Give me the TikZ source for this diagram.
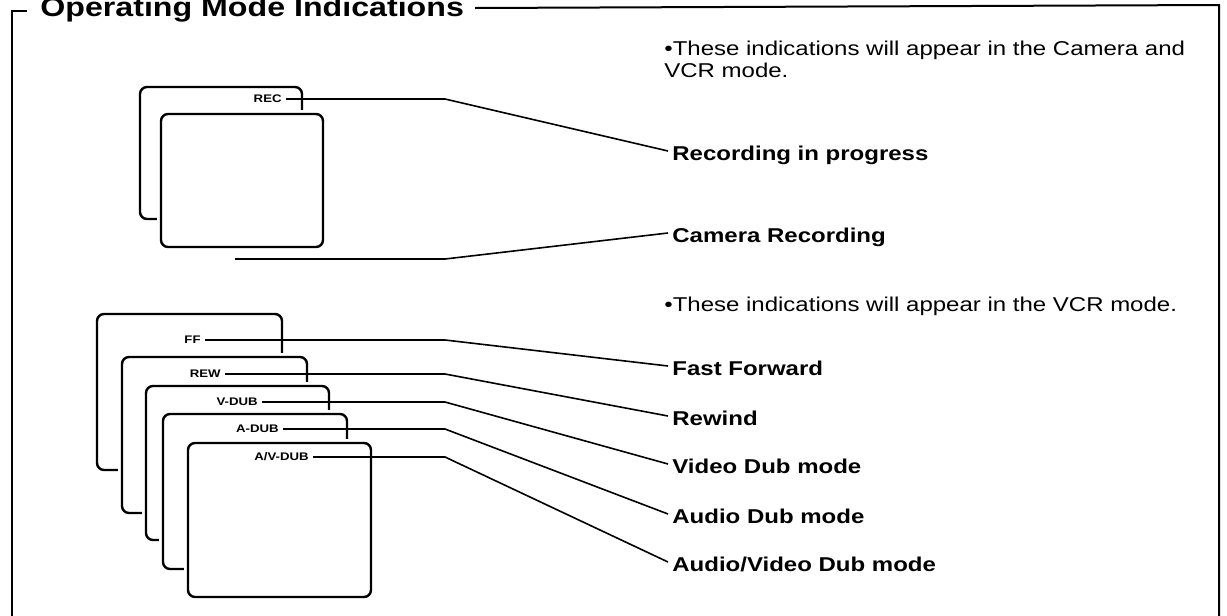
\documentclass[tikz,border=0pt]{standalone}
\usepackage{fontspec}
\setmainfont{Liberation Sans}[FakeStretch=1.2]
\usepackage{tikz}
\tikzset{
  % rutor
  scr/.style={draw=black,line width=1.2pt,fill=white,rounded corners=3.5pt,
              preaction={draw=white,line width=4pt}},
  scrtxt/.style={font=\fontsize{5.5}{6}\selectfont\bfseries,inner xsep=2pt,
                 inner ysep=0pt,anchor=east},
  % texter
  lbl/.style={font=\fontsize{10}{11}\selectfont\bfseries,anchor=west,
              inner xsep=2pt,inner ysep=0pt,text height=9pt,text depth=0pt},
  note/.style={font=\fontsize{10}{11}\selectfont,anchor=base west,inner sep=0pt},
  lead/.style={draw=black,line width=0.8pt},
  frame/.style={draw=black,line width=1pt},
}
\begin{document}
\begin{tikzpicture}[x=0.5pt,y=-0.5pt]
\useasboundingbox (0,0) rectangle (1227,616);
  % ram
  \node[font=\fontsize{13.4}{14}\selectfont\bfseries,anchor=base west,inner sep=0pt]
    (title) at (40,16) {Operating Mode Indications};
  \draw[frame] (27,11) -- (12,11) -- (12,616);
  \draw[frame] (475,8) -- (1219,5) -- (1219,616);
  \coordinate (knee) at (445,0);
  % kamera + VCR
  \draw[scr] (140,87) rectangle (302,219);
  \draw[scr] (161,114) rectangle (323,247);
  \node[scrtxt] (rec) at (286,99) {REC};
  \coordinate (camtip) at (235,259);
  \node[note] (note1) at (664,55) {\textbullet These indications will appear in the Camera and};
  \node[note] (note1b) at (664,77) {VCR mode.};
  \node[lbl] (recprog) at (668,151) {Recording in progress};
  \node[lbl] (camrec) at (668,233) {Camera Recording};
  \draw[lead] (rec.east) -- (rec.east -| knee) -- (recprog.west);
  \draw[lead] (camtip) -- (camtip -| knee) -- (camrec.west);
  % bara VCR
  \draw[scr] (97,314) rectangle (282,470);
  \draw[scr] (122,357) rectangle (307,513);
  \draw[scr] (146,386) rectangle (329,540);
  \draw[scr] (163,414) rectangle (347,569);
  \draw[scr] (188,443) rectangle (371,597);
  \node[scrtxt] (ff) at (205,340) {FF};
  \node[scrtxt] (rew) at (225,374) {REW};
  \node[scrtxt] (vdub) at (262,402) {V-DUB};
  \node[scrtxt] (adub) at (283,429) {A-DUB};
  \node[scrtxt] (avdub) at (313,457) {A/V-DUB};
  \node[note] (note2) at (664,311) {\textbullet These indications will appear in the VCR mode.};
  \node[lbl] (fwd) at (668,366) {Fast Forward};
  \node[lbl] (rewind) at (668,416) {Rewind};
  \node[lbl] (vmode) at (668,464) {Video Dub mode};
  \node[lbl] (amode) at (668,514) {Audio Dub mode};
  \node[lbl] (avmode) at (668,562) {Audio/Video Dub mode};
  \draw[lead] (ff.east) -- (ff.east -| knee) -- (fwd.west);
  \draw[lead] (rew.east) -- (rew.east -| knee) -- (rewind.west);
  \draw[lead] (vdub.east) -- (vdub.east -| knee) -- (vmode.west);
  \draw[lead] (adub.east) -- (adub.east -| knee) -- (amode.west);
  \draw[lead] (avdub.east) -- (avdub.east -| knee) -- (avmode.west);
\end{tikzpicture}
\end{document}
